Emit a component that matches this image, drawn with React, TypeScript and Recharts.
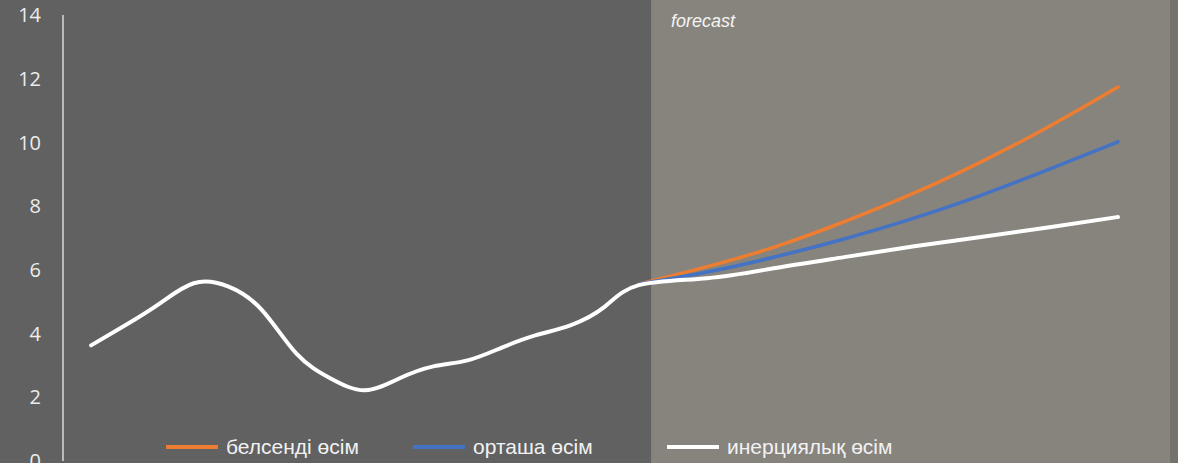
import React from 'react';
import { LineChart, Line, XAxis, YAxis, ReferenceArea, Legend } from 'recharts';

// historical periods (white line only)
const histPeriods = [0, 1, 2, 3, 4, 5, 6, 7, 8, 9, 10, 11, 12, 13, 14, 15];
const histInertial = [3.63, 4.26, 4.94, 5.58, 5.48, 4.73, 3.37, 2.59, 2.22, 2.59, 2.97, 3.16, 3.56, 3.95, 4.26, 4.84];

// forecast periods (all three scenarios)
const forecastPeriods = [16, 18, 20, 22, 24, 26, 28, 30];
const active = [5.55, 6.1, 6.73, 7.51, 8.39, 9.39, 10.51, 11.74];
const moderate = [5.55, 5.93, 6.41, 6.97, 7.61, 8.34, 9.16, 10.02];
const inertial = [5.52, 5.74, 6.06, 6.4, 6.73, 7.03, 7.34, 7.66];

const yTicks = [0, 2, 4, 6, 8, 10, 12, 14];

const seriesNames = ['белсенді өсім', 'орташа өсім', 'инерциялық өсім'];
const seriesColors = ['#ED7D31', '#4472C4', '#FFFFFF'];

const data = [
  ...histPeriods.map((t, i) => ({ t, inertial: histInertial[i] })),
  ...forecastPeriods.map((t, i) => ({
    t,
    active: active[i],
    moderate: moderate[i],
    inertial: inertial[i],
  })),
];

const renderLegend = () => (
  <div style={{ display: 'flex', fontFamily: '"Liberation Sans", Arial, sans-serif', fontSize: 21, color: '#f2f2f2' }}>
    {seriesNames.map((name, i) => (
      <div key={name} style={{ display: 'flex', alignItems: 'center', width: i === 0 ? 247 : 254 }}>
        <svg width={52} height={6} style={{ marginRight: 8 }}>
          <line x1={0} y1={3} x2={52} y2={3} stroke={seriesColors[i]} strokeWidth={4} />
        </svg>
        <span>{name}</span>
      </div>
    ))}
  </div>
);

export default function App() {
  return (
    <div style={{ position: 'absolute', left: 0, top: 0, width: 1178, height: 463, background: '#616161', overflow: 'hidden' }}>
      <LineChart width={1178} height={463} data={data} margin={{ top: 15, right: 8, bottom: 2, left: 0 }}>
        <XAxis type="number" dataKey="t" domain={[-0.82, 31.52]} allowDataOverflow hide />
        <YAxis
          domain={[0, 14]}
          ticks={yTicks}
          interval={0}
          width={63}
          tickLine={false}
          tickSize={0}
          tickMargin={22}
          axisLine={{ stroke: '#d9d9d9', strokeWidth: 1.5 }}
          tick={{ fill: '#ececec', fontSize: 20, fontFamily: '"Open Sans", sans-serif' }}
        />
        <ReferenceArea
          x1={16.36}
          x2={31.52}
          y1={-0.2}
          y2={14.6}
          ifOverflow="visible"
          fill="#87847e"
          fillOpacity={1}
          stroke="none"
          label={(p: any) => (
            <text
              x={p.viewBox.x + 20}
              y={27}
              fill="#f4f4f4"
              fontSize={18}
              fontStyle="italic"
              fontFamily='"Liberation Sans", Arial, sans-serif'
            >
              forecast
            </text>
          )}
        />
        <ReferenceArea x1={31.52} x2={32.0} y1={-0.2} y2={14.6} ifOverflow="visible" fill="#74726d" fillOpacity={1} stroke="none" />
        <Legend
          layout="horizontal"
          verticalAlign="middle"
          align="center"
          content={renderLegend}
          wrapperStyle={{ left: 166, top: 435, width: 800 }}
        />
        <Line
          type="natural"
          dataKey="active"
          name={seriesNames[0]}
          stroke={seriesColors[0]}
          strokeWidth={3.5}
          strokeLinecap="round"
          dot={false}
          isAnimationActive={false}
        />
        <Line
          type="natural"
          dataKey="moderate"
          name={seriesNames[1]}
          stroke={seriesColors[1]}
          strokeWidth={3.5}
          strokeLinecap="round"
          dot={false}
          isAnimationActive={false}
        />
        <Line
          type="natural"
          dataKey="inertial"
          name={seriesNames[2]}
          stroke={seriesColors[2]}
          strokeWidth={4}
          strokeLinecap="round"
          dot={false}
          isAnimationActive={false}
        />
      </LineChart>
    </div>
  );
}
